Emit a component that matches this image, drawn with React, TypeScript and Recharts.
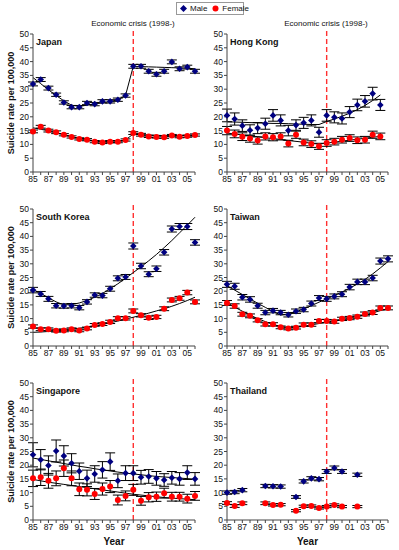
import React from 'react';
import {
  ComposedChart,
  Scatter,
  Line,
  ErrorBar,
  XAxis,
  YAxis,
  ReferenceLine,
} from 'recharts';

const years = [
  1985, 1986, 1987, 1988, 1989, 1990, 1991, 1992, 1993, 1994, 1995,
  1996, 1997, 1998, 1999, 2000, 2001, 2002, 2003, 2004, 2005, 2006,
];
const yTicks = [0, 5, 10, 15, 20, 25, 30, 35, 40, 45, 50];

type Num = number | null;

// Japan
const jpMale: Num[] = [31.9, 33.5, 30.4, 28.0, 25.2, 23.5, 23.5, 25.0, 24.6, 25.6, 25.6, 26.2, 27.7, 38.3, 38.3, 36.5, 35.4, 36.5, 39.9, 37.4, 38.0, 36.5];
const jpMaleErr: Num[] = [0.7, 0.7, 0.7, 0.6, 0.6, 0.6, 0.6, 0.6, 0.6, 0.6, 0.6, 0.6, 0.6, 0.7, 0.7, 0.7, 0.7, 0.7, 0.7, 0.7, 0.7, 0.7];
const jpFemale: Num[] = [14.7, 16.4, 15.0, 14.4, 13.5, 12.7, 12.0, 11.7, 11.0, 10.7, 11.0, 11.0, 11.6, 14.1, 13.5, 12.9, 12.7, 12.6, 13.2, 12.8, 13.0, 13.4];
const jpFemaleErr: Num[] = [0.5, 0.5, 0.5, 0.5, 0.4, 0.4, 0.4, 0.4, 0.4, 0.4, 0.4, 0.4, 0.4, 0.5, 0.5, 0.4, 0.4, 0.4, 0.4, 0.4, 0.4, 0.4];
const jpMaleFit: Num[] = [34.2, 32.0, 29.8, 27.7, 25.8, 24.2, 23.8, 24.2, 24.7, 25.1, 25.6, 26.1, 27.8, 38.3, 38.2, 38.1, 38.0, 37.9, 37.8, 37.7, 37.6, 37.4];
const jpFemaleFit: Num[] = [16.0, 15.5, 14.9, 14.2, 13.5, 12.8, 12.2, 11.7, 11.3, 11.0, 10.9, 11.0, 11.6, 13.8, 13.6, 13.4, 13.3, 13.2, 13.2, 13.2, 13.2, 13.2];

// Hong Kong
const hkMale: Num[] = [20.5, 19.2, 16.8, 15.1, 15.9, 17.5, 20.5, 18.7, 15.0, 17.0, 17.8, 18.7, 14.4, 20.5, 19.8, 19.4, 21.7, 24.3, 25.6, 28.4, 24.3, null];
const hkMaleErr: Num[] = [2.3, 2.2, 2.1, 2.0, 2.0, 2.0, 2.1, 2.0, 1.9, 1.9, 2.0, 2.0, 1.8, 2.1, 2.0, 2.0, 2.0, 2.1, 2.1, 2.3, 2.0, null];
const hkFemale: Num[] = [15.0, 13.8, 12.8, 12.1, 11.4, 12.9, 12.6, 12.9, 10.3, 13.5, 10.7, 10.1, 9.3, 10.5, 11.0, 11.7, 12.3, 11.5, 11.7, 13.5, 12.9, null];
const hkFemaleErr: Num[] = [1.5, 1.4, 1.4, 1.3, 1.3, 1.3, 1.3, 1.3, 1.2, 1.3, 1.2, 1.2, 1.1, 1.2, 1.2, 1.2, 1.2, 1.2, 1.2, 1.3, 1.2, null];
const hkMaleFit: Num[] = [18.2, 18.1, 18.0, 17.9, 17.8, 17.7, 17.6, 17.6, 17.5, 17.4, 17.3, 17.2, 17.2, 18.3, 19.2, 20.2, 21.3, 22.6, 24.1, 25.9, 27.9, null];
const hkFemaleFit: Num[] = [14.1, 13.8, 13.4, 13.1, 12.8, 12.4, 12.1, 11.8, 11.4, 11.1, 10.8, 10.4, 10.1, 10.5, 10.8, 11.2, 11.5, 11.9, 12.2, 12.6, 12.9, null];

// South Korea
const krMale: Num[] = [20.4, 19.0, 17.2, 14.7, 14.6, 14.7, 14.0, 16.1, 18.6, 18.4, 20.9, 24.7, 25.2, 36.5, 29.2, 26.2, 28.2, 34.2, 42.7, 43.6, 43.6, 37.8];
const krMaleErr: Num[] = [1.0, 0.9, 0.9, 0.8, 0.8, 0.8, 0.8, 0.8, 0.8, 0.8, 0.9, 0.9, 0.9, 1.1, 1.0, 0.9, 1.0, 1.0, 1.1, 1.1, 1.1, 1.0];
const krFemale: Num[] = [7.1, 6.1, 6.1, 5.6, 5.7, 6.1, 5.7, 6.4, 7.7, 8.0, 8.8, 10.1, 10.1, 12.8, 11.2, 10.3, 10.6, 13.6, 16.8, 17.4, 19.5, 16.1];
const krFemaleErr: Num[] = [0.6, 0.5, 0.5, 0.5, 0.5, 0.5, 0.5, 0.5, 0.5, 0.5, 0.6, 0.6, 0.6, 0.7, 0.6, 0.6, 0.6, 0.7, 0.7, 0.7, 0.8, 0.7];
const krMaleFit: Num[] = [20.6, 19.2, 17.6, 16.1, 15.0, 15.1, 15.7, 16.6, 17.8, 19.2, 20.9, 22.7, 24.7, 26.8, 28.9, 31.1, 33.4, 35.9, 38.5, 41.3, 44.1, 47.0];
const krFemaleFit: Num[] = [5.0, 5.1, 5.3, 5.5, 5.8, 6.1, 6.5, 6.9, 7.4, 7.9, 8.5, 9.1, 9.8, 10.5, 11.2, 12.0, 12.8, 13.6, 14.5, 15.5, 16.6, 17.8];

// Taiwan
const twMale: Num[] = [22.5, 21.8, 17.8, 17.0, 14.7, 12.2, 12.9, 12.2, 11.4, 12.7, 13.3, 15.5, 17.5, 17.2, 18.1, 18.9, 21.5, 23.4, 23.4, 24.8, 31.0, 31.8];
const twMaleErr: Num[] = [1.1, 1.1, 1.0, 1.0, 0.9, 0.8, 0.8, 0.8, 0.8, 0.8, 0.8, 0.9, 0.9, 0.9, 0.9, 0.9, 1.0, 1.0, 1.0, 1.0, 1.1, 1.1];
const twFemale: Num[] = [15.7, 14.6, 11.6, 11.0, 9.4, 7.9, 7.9, 6.8, 6.4, 6.7, 7.8, 7.8, 9.1, 9.1, 8.9, 9.9, 10.2, 10.7, 11.7, 12.2, 13.9, 13.9];
const twFemaleErr: Num[] = [0.9, 0.8, 0.7, 0.7, 0.6, 0.6, 0.6, 0.5, 0.5, 0.5, 0.6, 0.6, 0.6, 0.6, 0.6, 0.6, 0.6, 0.6, 0.7, 0.7, 0.7, 0.7];
const twMaleFit: Num[] = [22.0, 20.4, 18.8, 17.2, 15.6, 14.1, 12.6, 11.3, 11.7, 12.5, 13.5, 14.7, 16.0, 17.2, 18.4, 19.7, 21.1, 22.6, 24.3, 26.3, 28.5, 30.8];
const twFemaleFit: Num[] = [15.8, 14.2, 12.7, 11.3, 10.0, 8.9, 7.9, 7.1, 6.6, 6.8, 7.2, 7.7, 8.2, 8.7, 9.2, 9.7, 10.2, 10.8, 11.4, 12.1, 12.9, 13.7];

// Singapore
const sgMale: Num[] = [23.8, 22.0, 19.9, 25.2, 23.4, 20.7, 17.8, 15.2, 16.8, 18.3, 21.3, 14.3, 17.1, 17.1, 15.6, 15.9, 15.2, 14.6, 15.4, 15.0, 17.3, 15.0];
const sgMaleErr: Num[] = [4.4, 3.7, 3.5, 4.0, 3.7, 3.5, 3.0, 3.0, 3.0, 3.0, 3.2, 2.5, 2.7, 2.7, 2.5, 2.5, 2.5, 2.3, 2.3, 2.3, 2.5, 2.3];
const sgFemale: Num[] = [15.2, 15.6, 14.3, 15.2, 18.9, 15.2, 11.2, 11.0, 9.5, 11.3, 12.2, 7.3, 8.8, 11.0, 7.0, 8.3, 8.5, 9.8, 8.5, 8.5, 7.8, 8.8];
const sgFemaleErr: Num[] = [3.0, 3.0, 2.7, 2.7, 3.0, 2.7, 2.3, 2.2, 2.0, 2.2, 2.2, 1.8, 1.8, 2.0, 1.6, 1.7, 1.7, 1.8, 1.6, 1.6, 1.6, 1.6];
const sgMaleFit: Num[] = [22.6, 22.1, 21.6, 21.1, 20.6, 20.1, 19.6, 19.2, 18.7, 18.3, 17.9, 17.5, 17.1, 16.8, 16.5, 16.2, 15.9, 15.7, 15.5, 15.3, 15.1, 14.9];
const sgFemaleFit: Num[] = [14.8, 14.3, 13.8, 13.4, 13.0, 12.6, 12.2, 11.8, 11.4, 11.0, 10.6, 10.2, 9.8, 9.4, 9.1, 8.8, 8.5, 8.2, 8.0, 7.8, 7.6, 7.4];

// Thailand (no trend lines)
const thMale: Num[] = [10.0, 10.2, 10.9, null, null, 12.4, 12.3, 12.2, null, 8.4, 14.1, 15.2, 14.9, 17.7, 19.0, 17.7, null, 16.5, null, null, null, null];
const thMaleErr: Num[] = [0.6, 0.6, 0.6, null, null, 0.6, 0.6, 0.6, null, 0.5, 0.6, 0.6, 0.6, 0.7, 0.7, 0.7, null, 0.6, null, null, null, null];
const thFemale: Num[] = [6.2, 5.1, 6.1, null, null, 6.1, 5.5, 5.6, null, 3.4, 5.0, 5.1, 4.4, 4.9, 5.5, 4.9, null, 4.9, null, null, null, null];
const thFemaleErr: Num[] = [0.5, 0.5, 0.5, null, null, 0.5, 0.4, 0.4, null, 0.4, 0.4, 0.4, 0.4, 0.4, 0.4, 0.4, null, 0.4, null, null, null, null];
const noFit: Num[] = years.map(() => null);

const MALE = '#000080';
const FEMALE = '#ff0000';
const FONT = 'Arial, "Liberation Sans", Helvetica, sans-serif';

const Diamond = (p: any) => (
  <polygon
    points={`${p.cx},${p.cy - 3.3} ${p.cx + 3.3},${p.cy} ${p.cx},${p.cy + 3.3} ${p.cx - 3.3},${p.cy}`}
    fill={MALE}
  />
);
const Dot = (p: any) => <circle cx={p.cx} cy={p.cy} r={3} fill={FEMALE} />;

const cols = [
  { left: 0, width: 200, mLeft: 13, mRight: 5, crisisX: 133 },
  { left: 200, width: 199, mLeft: 7, mRight: 11, crisisX: 326 },
];
const rows = [
  { top: 0, mTop: 34, plotH: 138, xH: 20 },
  { top: 199, mTop: 10, plotH: 137, xH: 20 },
  { top: 373, mTop: 10, plotH: 137, xH: 30 },
];

interface PanelProps {
  title: string;
  col: number;
  row: number;
  male: Num[];
  maleErr: Num[];
  female: Num[];
  femaleErr: Num[];
  maleFit: Num[];
  femaleFit: Num[];
}

const Panel: React.FC<PanelProps> = ({ title, col, row, male, maleErr, female, femaleErr, maleFit, femaleFit }) => {
  const c = cols[col];
  const r = rows[row];
  const data = years.map((year, i) => ({
    year,
    m: male[i],
    mErr: maleErr[i],
    f: female[i],
    fErr: femaleErr[i],
    mFit: maleFit[i],
    fFit: femaleFit[i],
  }));
  const maleData = data.filter((d) => d.m != null);
  const femaleData = data.filter((d) => d.f != null);
  const height = r.mTop + r.plotH + r.xH;
  const tickStyle = { fontSize: 8.5, fill: '#111', fontFamily: FONT };

  return (
    <div style={{ position: 'absolute', left: c.left, top: r.top, width: c.width, height }}>
      <ComposedChart
        width={c.width}
        height={height}
        data={data}
        margin={{ top: r.mTop, right: c.mRight, bottom: 0, left: c.mLeft }}
      >
        <XAxis
          dataKey="year"
          type="number"
          domain={[1985, 2006]}
          ticks={years}
          interval={0}
          tickFormatter={(v: number) => ((v - 1985) % 2 === 0 ? String(v).slice(2) : '')}
          tick={tickStyle}
          tickSize={3}
          tickMargin={1}
          stroke="#444"
          height={r.xH}
          label={
            row === 2
              ? { value: 'Year', position: 'insideBottom', offset: 5, style: { fontSize: 10, fontWeight: 'bold', fill: '#111', fontFamily: FONT } }
              : undefined
          }
        />
        <YAxis
          type="number"
          domain={[0, 50]}
          ticks={yTicks}
          interval={0}
          allowDataOverflow
          tick={tickStyle}
          tickSize={3}
          tickMargin={1}
          stroke="#444"
          width={20}
          label={
            col === 0
              ? {
                  value: 'Suicide rate per 100,000',
                  angle: -90,
                  position: 'insideLeft',
                  offset: -2,
                  style: { textAnchor: 'middle', fontSize: 9, fontWeight: 'bold', fill: '#111', fontFamily: FONT },
                }
              : undefined
          }
        />
        <ReferenceLine
          segment={[
            { x: 1998, y: 0 },
            { x: 1998, y: 52 },
          ]}
          ifOverflow="visible"
          stroke="#ff3030"
          strokeWidth={1.4}
          strokeDasharray="5 3"
        />
        <Scatter data={maleData} dataKey="m" shape={Diamond} isAnimationActive={false}>
          <ErrorBar dataKey="mErr" direction="y" width={5} stroke="#000" strokeWidth={1} />
        </Scatter>
        <Scatter data={femaleData} dataKey="f" shape={Dot} isAnimationActive={false}>
          <ErrorBar dataKey="fErr" direction="y" width={5} stroke="#000" strokeWidth={1} />
        </Scatter>
        <Line dataKey="mFit" stroke="#000" strokeWidth={1} dot={false} activeDot={false} isAnimationActive={false} />
        <Line dataKey="fFit" stroke="#000" strokeWidth={1} dot={false} activeDot={false} isAnimationActive={false} />
      </ComposedChart>
      <div
        style={{
          position: 'absolute',
          left: c.mLeft + 20 + 3,
          top: r.mTop + 3,
          fontFamily: FONT,
          fontSize: 9,
          fontWeight: 'bold',
          lineHeight: '10px',
          color: '#111',
          whiteSpace: 'nowrap',
        }}
      >
        {title}
      </div>
    </div>
  );
};

const Legend = () => (
  <div
    style={{
      position: 'absolute',
      left: 176,
      top: 2,
      width: 68,
      height: 13,
      boxSizing: 'border-box',
      border: '1px solid #999',
      background: '#fff',
      display: 'flex',
      alignItems: 'center',
      gap: 3,
      paddingLeft: 3,
      fontFamily: FONT,
      fontSize: 8,
      color: '#111',
      whiteSpace: 'nowrap',
    }}
  >
    <svg width={7} height={7} style={{ display: 'block', flex: 'none' }}>
      <polygon points="3.5,0 7,3.5 3.5,7 0,3.5" fill={MALE} />
    </svg>
    <span>Male</span>
    <svg width={7} height={7} style={{ display: 'block', flex: 'none', marginLeft: 2 }}>
      <circle cx={3.5} cy={3.5} r={3} fill={FEMALE} />
    </svg>
    <span>Female</span>
  </div>
);

export default function App() {
  return (
    <div style={{ position: 'absolute', left: 0, top: 0, width: 399, height: 550, background: '#fff', overflow: 'hidden' }}>
      <Panel title="Japan" col={0} row={0} male={jpMale} maleErr={jpMaleErr} female={jpFemale} femaleErr={jpFemaleErr} maleFit={jpMaleFit} femaleFit={jpFemaleFit} />
      <Panel title="Hong Kong" col={1} row={0} male={hkMale} maleErr={hkMaleErr} female={hkFemale} femaleErr={hkFemaleErr} maleFit={hkMaleFit} femaleFit={hkFemaleFit} />
      <Panel title="South Korea" col={0} row={1} male={krMale} maleErr={krMaleErr} female={krFemale} femaleErr={krFemaleErr} maleFit={krMaleFit} femaleFit={krFemaleFit} />
      <Panel title="Taiwan" col={1} row={1} male={twMale} maleErr={twMaleErr} female={twFemale} femaleErr={twFemaleErr} maleFit={twMaleFit} femaleFit={twFemaleFit} />
      <Panel title="Singapore" col={0} row={2} male={sgMale} maleErr={sgMaleErr} female={sgFemale} femaleErr={sgFemaleErr} maleFit={sgMaleFit} femaleFit={sgFemaleFit} />
      <Panel title="Thailand" col={1} row={2} male={thMale} maleErr={thMaleErr} female={thFemale} femaleErr={thFemaleErr} maleFit={noFit} femaleFit={noFit} />
      {cols.map((c, i) => (
        <div
          key={i}
          style={{
            position: 'absolute',
            left: c.crisisX - 55,
            top: 19,
            width: 110,
            textAlign: 'center',
            fontFamily: FONT,
            fontSize: 8,
            lineHeight: '10px',
            color: '#111',
          }}
        >
          Economic crisis (1998-)
        </div>
      ))}
      <Legend />
    </div>
  );
}
